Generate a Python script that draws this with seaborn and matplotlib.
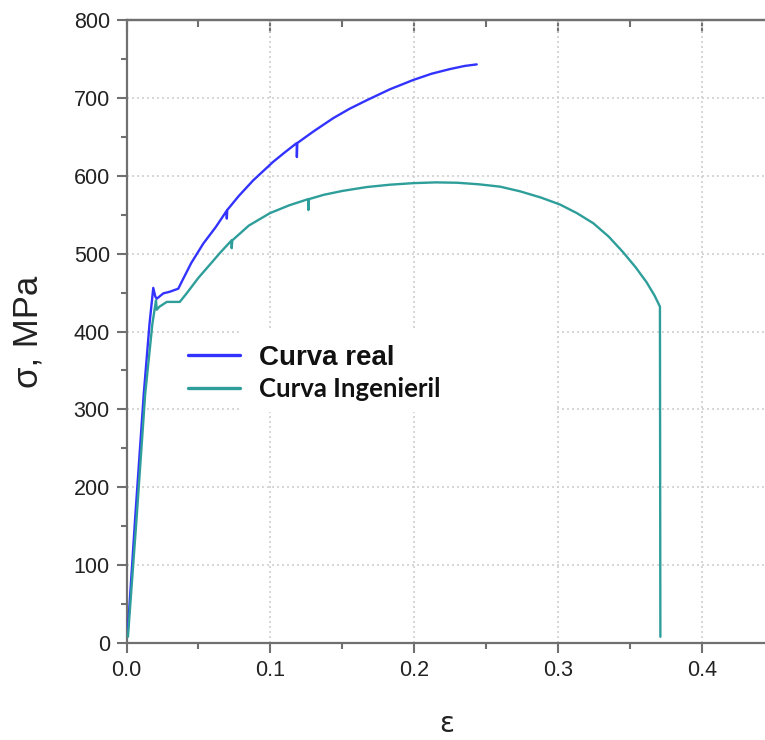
import numpy as np
import pandas as pd
import seaborn as sns
import matplotlib
matplotlib.use("Agg")
import matplotlib.pyplot as plt
from matplotlib.patches import Rectangle
from matplotlib.ticker import MultipleLocator

# ---- data ----
eps_real = [0.0008, 0.006, 0.012, 0.016, 0.0186, 0.0200, 0.0210, 0.0256, 0.0300, 0.0360,
            0.0384, 0.0450, 0.0534, 0.0620, 0.0696, 0.0697, 0.0700, 0.0780, 0.0880, 0.0950,
            0.1020, 0.1100, 0.1183, 0.1184, 0.1187, 0.1300, 0.1437, 0.1550, 0.1670, 0.1830,
            0.1993, 0.2120, 0.2248, 0.2350, 0.2434]
sig_real = [12, 160, 320, 410, 456, 445, 442, 449, 451, 455,
            464, 488, 513, 534, 555, 545, 556, 574, 594, 606,
            618, 630, 642, 624, 642, 657, 674, 686, 697, 711,
            723, 731, 737, 741, 743]

eps_eng = [0.001, 0.007, 0.013, 0.018, 0.0205, 0.0210, 0.0230, 0.0280, 0.0370, 0.0418,
           0.0500, 0.0580, 0.0650, 0.0730, 0.0731, 0.0735, 0.0850, 0.0997, 0.1130, 0.1263,
           0.1264, 0.1268, 0.1370, 0.1500, 0.1670, 0.1830, 0.1993, 0.2150, 0.2300, 0.2450,
           0.2596, 0.2735, 0.2880, 0.3013, 0.3130, 0.3244, 0.3350, 0.3450, 0.3540, 0.3615,
           0.3670, 0.3707, 0.3710]
sig_eng = [8, 160, 320, 410, 440, 428, 432, 438, 438, 449,
           469, 486, 501, 517, 507, 517, 536, 552, 562, 570,
           556, 570, 575.5, 580.5, 585.5, 588.5, 590.5, 591.5, 591, 589,
           586, 580, 572, 563, 552, 539, 522, 502, 482, 463,
           446, 432, 8]

label_real = "Curva real"
label_eng = "Curva Ingenieril"
x_ticks = [0.0, 0.1, 0.2, 0.3, 0.4]
y_ticks = [0, 100, 200, 300, 400, 500, 600, 700, 800]

df_real = pd.DataFrame({"eps": eps_real, "sig": sig_real})
df_eng = pd.DataFrame({"eps": eps_eng, "sig": sig_eng})

sns.set_style("white")
plt.rcParams["font.family"] = ["Liberation Sans", "DejaVu Sans"]

W, H = 765, 740
fig = plt.figure(figsize=(W / 100, H / 100), dpi=100)
L, R, B, T = 126.5, 765, 643, 20
ax = fig.add_axes([L / W, 1 - B / H, (R - L) / W, (B - T) / H])

c_real = "#3333ff"
c_eng = "#2e9e9a"
sns.lineplot(data=df_real, x="eps", y="sig", ax=ax, color=c_real, lw=1.7,
             sort=False, estimator=None, zorder=3)
sns.lineplot(data=df_eng, x="eps", y="sig", ax=ax, color=c_eng, lw=1.7,
             sort=False, estimator=None, zorder=3)

ax.set_xlim(0, (R - L) / 1439.0)
ax.set_ylim(0, 800)
ax.set_xticks(x_ticks)
ax.set_xticklabels([f"{v:.1f}" for v in x_ticks])
ax.set_yticks(y_ticks)
ax.xaxis.set_minor_locator(MultipleLocator(0.05))
ax.yaxis.set_minor_locator(MultipleLocator(50))

spine_c = "#707070"
for s in ["left", "bottom", "top"]:
    ax.spines[s].set_color(spine_c)
    ax.spines[s].set_linewidth(1.6)
ax.spines["right"].set_visible(False)

ax.tick_params(axis="both", which="major", direction="out", length=7, width=1.5,
               color=spine_c, labelsize=15.5, labelcolor="#222222", pad=5)
ax.tick_params(axis="both", which="minor", direction="out", length=4, width=1.5,
               color=spine_c)
ax.tick_params(axis="x", which="both", bottom=True, top=False)
ax.tick_params(axis="y", which="both", left=True, right=False)

# inward ticks along the top spine
sec = ax.secondary_xaxis("top")
sec.set_xticks(x_ticks)
sec.xaxis.set_minor_locator(MultipleLocator(0.05))
sec.tick_params(which="major", direction="in", length=9, width=1.5, color=spine_c,
                labeltop=False)
sec.tick_params(which="minor", direction="in", length=5, width=1.5, color=spine_c)
sec.spines["top"].set_color(spine_c)
sec.spines["top"].set_linewidth(1.6)

ax.grid(True, which="major", linestyle=(0, (1.2, 1.8)), color="#cfcfcf", lw=1.2)
ax.set_axisbelow(True)

ax.set_xlabel("ε", fontsize=20, family=["DejaVu Sans"], color="#222222")
ax.xaxis.set_label_coords(0.502, -0.108)
ax.set_ylabel("σ, MPa", fontsize=25, color="#222222")
ax.yaxis.set_label_coords(-0.129, 0.5)

# white background behind legend labels (hides grid there)
ax.add_patch(Rectangle((240 / W, 1 - 412 / H), (555 - 240) / W, (412 - 328) / H,
                       transform=fig.transFigure, facecolor="white", edgecolor="none",
                       zorder=1.5))

handles = [plt.Line2D([], [], color=c_real, lw=2.4), plt.Line2D([], [], color=c_eng, lw=2.4)]
leg = ax.legend(handles, [label_real, label_eng], loc="center left",
                bbox_to_anchor=(188 / W, 1 - 373 / H), bbox_transform=fig.transFigure,
                frameon=False, borderpad=0, borderaxespad=0, handlelength=1.87,
                handletextpad=0.68, labelspacing=0.25,
                prop={"size": 20, "weight": "bold"})
t0, t1 = leg.get_texts()
t0.set_color("#111111")
t1.set_fontsize(18.5)
t1.set_fontweight("bold")
t1.set_family(["Lato", "DejaVu Sans"])
t1.set_color("#111111")

fig.savefig("out.png", dpi=100)
